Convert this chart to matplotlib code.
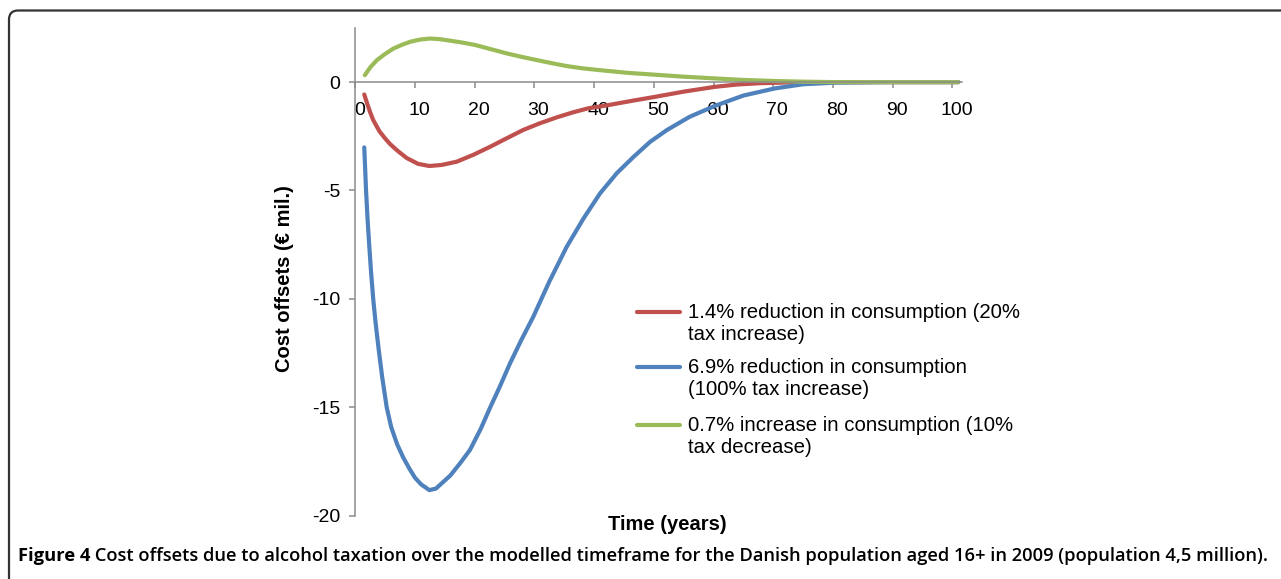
import matplotlib
matplotlib.use("Agg")
import matplotlib.pyplot as plt
import matplotlib.transforms as mtransforms
from matplotlib.patches import FancyBboxPatch
from matplotlib.lines import Line2D

# values (years, cost offsets in EUR mil.)
red_x = [1.5, 2.0, 2.5, 3.0, 3.6, 4.1, 5.0, 5.8, 7.0, 8.6, 10.5, 12.4, 14.5, 17.0, 19.8, 22.6, 25.3,
         28.1, 30.9, 33.7, 36.4, 39.0, 42, 46, 50.2, 55, 60.2, 64, 67.8, 72, 80, 90, 101]
red_y = [-0.57, -1.0, -1.4, -1.75, -2.05, -2.29, -2.6, -2.85, -3.15, -3.5, -3.77, -3.87, -3.82, -3.67,
         -3.35, -2.98, -2.6, -2.21, -1.9, -1.63, -1.4, -1.21, -1.08, -0.88, -0.68, -0.44, -0.22, -0.11,
         -0.05, -0.02, 0, 0, 0]

blue_x = [1.5, 1.65, 1.8, 2.05, 2.35, 2.65, 3.0, 3.4, 3.86, 4.5, 5.26, 6.0, 7.0, 8.0, 9.0, 10.0, 11.0,
          12.4, 13.5, 14.5, 15.9, 17.5, 19.2, 21.0, 22.6, 24.2, 25.9, 27.8, 29.8, 32.5, 35.4, 38.2,
          41.0, 43.8, 46.6, 49.4, 52.2, 56, 60.2, 65, 70.3, 75, 80, 90, 101]
blue_y = [-3.01, -4.0, -5.0, -6.3, -7.6, -8.8, -10.0, -11.1, -12.2, -13.6, -15.0, -15.9, -16.7, -17.3,
          -17.8, -18.25, -18.55, -18.82, -18.75, -18.5, -18.15, -17.6, -16.97, -16.0, -15.0, -14.05,
          -12.98, -11.9, -10.83, -9.2, -7.6, -6.3, -5.13, -4.2, -3.45, -2.75, -2.21, -1.6, -1.1, -0.62,
          -0.29, -0.1, -0.03, 0, 0]

green_x = [1.6, 2.5, 3.6, 5.0, 6.4, 7.8, 9.2, 10.8, 12.5, 14.2, 15.9, 18, 20.1, 22.7, 25.4, 27.6, 29.8,
           32.6, 35.4, 38.2, 41.0, 45.5, 50.2, 55, 60.2, 65, 70.3, 75, 80, 90, 101]
green_y = [0.32, 0.68, 1.01, 1.3, 1.55, 1.72, 1.86, 1.96, 2.01, 1.98, 1.91, 1.82, 1.71, 1.52, 1.32,
           1.18, 1.05, 0.89, 0.74, 0.63, 0.55, 0.43, 0.34, 0.25, 0.17, 0.1, 0.05, 0.02, 0.0, 0, 0]

labels = ["1.4% reduction in consumption (20%\ntax increase)",
          "6.9% reduction in consumption\n(100% tax increase)",
          "0.7% increase in consumption (10%\ntax decrease)"]
colors = ["#C0504D", "#4F81BD", "#9BBB59"]

x_ticks = [0, 10, 20, 30, 40, 50, 60, 70, 80, 90, 100]
y_ticks = [0, -5, -10, -15, -20]

plt.rcParams['font.family'] = ['Liberation Sans', 'DejaVu Sans']

W, H = 1281, 579
fig = plt.figure(figsize=(W / 100, H / 100), dpi=100)
fig.patch.set_facecolor('white')

# rounded frame, only top-left corner visible
frame = FancyBboxPatch((0.09, -1.0), 14.0, 5.685 + 1.0,
                       boxstyle="round,pad=0,rounding_size=0.09",
                       transform=fig.dpi_scale_trans, fill=False,
                       edgecolor='#333333', linewidth=1.6, clip_on=False)
fig.patches.append(frame)

ax = fig.add_axes([355.3 / W, 1 - 515.7 / H, 606.6 / W, 487.8 / H])
ax.set_xlim(0, 101.6)
ax.set_ylim(-20, 2.5)

for xs, ys, c in zip([red_x, blue_x, green_x], [red_y, blue_y, green_y], colors):
    ax.plot(xs, ys, color=c, linewidth=3.0, solid_capstyle='round', solid_joinstyle='round')

ax.spines['top'].set_visible(False)
ax.spines['right'].set_visible(False)
ax.spines['bottom'].set_position(('data', 0))
for s in ('left', 'bottom'):
    ax.spines[s].set_color('#8c8c8c')
    ax.spines[s].set_linewidth(1.1)

ax.set_xticks(x_ticks)
ax.set_yticks(y_ticks)
ax.set_yticklabels([str(v) for v in y_ticks])
ax.tick_params(axis='both', colors='#8c8c8c', labelcolor='black', length=4, width=1.1,
               direction='out', labelsize=14)
ax.tick_params(axis='y', pad=7)
ax.tick_params(axis='x', pad=10)

offset = mtransforms.ScaledTranslation(4 / 100, 0, fig.dpi_scale_trans)
for lab in ax.get_xticklabels():
    lab.set_transform(lab.get_transform() + offset)

fig.text(285 / W, 1 - 279 / H, "Cost offsets (\u20ac mil.)", rotation=90, ha='center', va='center',
         fontsize=14.5, fontweight='bold')
fig.text(667 / W, 1 - 524 / H, "Time (years)", ha='center', va='center',
         fontsize=14.5, fontweight='bold')

# legend drawn by hand so the handle sits on the first text line
leg_rows = [311.7, 366.7, 425.0]
for row, lab, c in zip(leg_rows, labels, colors):
    fig.add_artist(Line2D([637 / W, 680 / W], [1 - row / H, 1 - row / H], color=c,
                          linewidth=3.0, solid_capstyle='round', transform=fig.transFigure))
    fig.text(688 / W, 1 - (row + 11.7) / H, lab, ha='left', va='center', fontsize=14.7,
             linespacing=1.22)

# caption, fitted to the width used in the reference
renderer = fig.canvas.get_renderer()
cap_fs = 13.5
cap_y = 1 - 556 / H
t1 = fig.text(18 / W, cap_y, "Figure 4", ha='left', va='center', fontsize=cap_fs,
              fontweight='bold', family=['Open Sans', 'DejaVu Sans'])
rest = (" Cost offsets due to alcohol taxation over the modelled timeframe for the Danish "
        "population aged 16+ in 2009 (population 4,5 million).")
t2 = fig.text(0, cap_y, rest, ha='left', va='center', fontsize=cap_fs,
              fontweight='semibold', family=['Open Sans', 'DejaVu Sans'])
for _ in range(3):
    w1 = t1.get_window_extent(renderer).width
    t2.set_x((18 + w1) / W)
    w2 = t2.get_window_extent(renderer).width
    scale = (1272 - 18) / (w1 + w2)
    cap_fs *= scale
    t1.set_fontsize(cap_fs)
    t2.set_fontsize(cap_fs)
w1 = t1.get_window_extent(renderer).width
t2.set_x((18 + w1) / W)

fig.savefig("out.png", dpi=100, facecolor='white')
